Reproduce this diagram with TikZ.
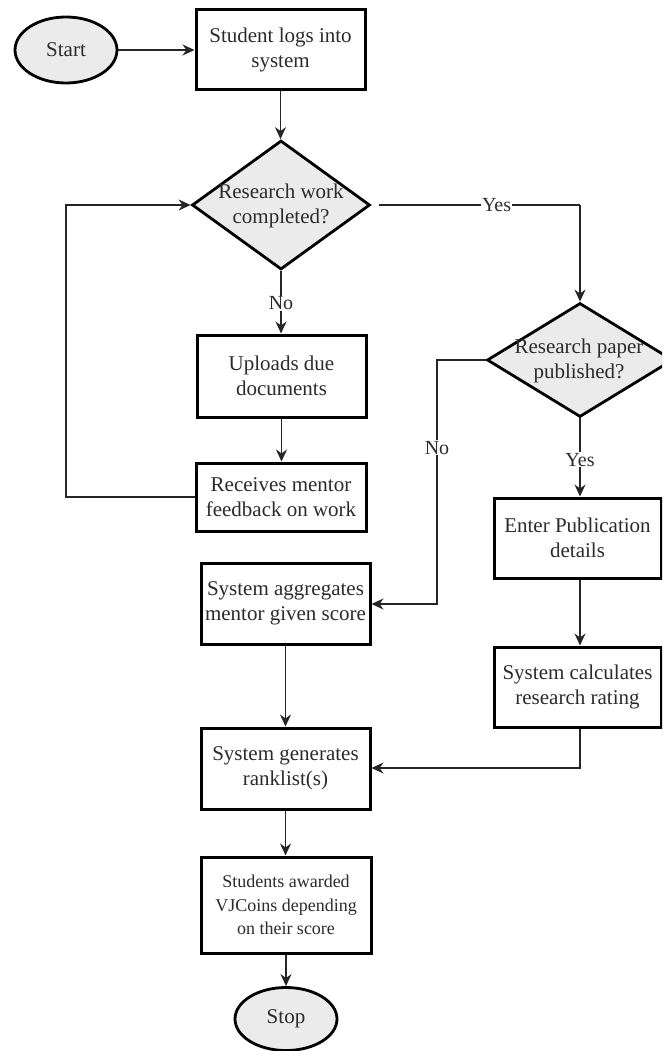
\documentclass[tikz,border=0pt]{standalone}
\usepackage{fontspec}
\setmainfont{Liberation Serif}
\usetikzlibrary{shapes.geometric,arrows.meta}
\definecolor{shapefill}{HTML}{EBEBEB}
\definecolor{txtcol}{HTML}{2B2B2B}
\tikzset{
  procbox/.style={draw=black, line width=3pt, fill=white, rectangle, inner sep=0pt,
    align=center, text=txtcol, font=\fontsize{21}{25}\selectfont},
  termin/.style={draw=black, line width=2.8pt, fill=shapefill, ellipse, inner sep=0pt,
    text=txtcol, font=\fontsize{21}{25}\selectfont},
  decis/.style={draw=black, line width=2.8pt, fill=shapefill, diamond, inner sep=0pt},
  dtext/.style={align=center, text=txtcol, inner sep=0pt, font=\fontsize{21}{25}\selectfont},
  conn/.style={draw=black!85, line width=1.5pt, -{Stealth[length=12pt,width=11pt]}},
  plain/.style={draw=black!85, line width=1.5pt},
  lbl/.style={fill=white, inner sep=1pt, text=txtcol, font=\fontsize{20}{24}\selectfont}
}
\begin{document}
\begin{tikzpicture}[x=1pt,y=-1pt]
\useasboundingbox (0,0) rectangle (662,1051);
\begin{scope}
\clip (0,0) rectangle (662,1051);
% nodes
\node[termin, minimum width=102pt, minimum height=66pt] (start) at (66,50) {Start};
\node[procbox, minimum width=169pt, minimum height=80pt] (login) at (280.5,50) {Student logs into\\system};
\node[decis, minimum width=178pt, minimum height=129pt] (d1) at (281,205) {};
\node[dtext] (d1t) at (281,206) {Research work\\completed?};
\node[procbox, minimum width=169pt, minimum height=82pt] (upload) at (281.5,376) {Uploads due\\documents};
\node[procbox, minimum width=170pt, minimum height=68pt] (recv) at (281,497) {Receives mentor\\feedback on work};
\node[decis, minimum width=186pt, minimum height=114pt] (d2) at (580,360) {};
\node[dtext] (d2t) at (579,361) {Research paper\\published?};
\node[procbox, minimum width=167pt, minimum height=80pt] (enter) at (577.5,538) {Enter Publication\\details};
\node[procbox, minimum width=167pt, minimum height=80pt] (calc) at (577.5,687) {System calculates\\research rating};
\node[procbox, minimum width=169pt, minimum height=81pt] (agg) at (285.5,603.5) {System aggregates\\mentor given score};
\node[procbox, minimum width=169pt, minimum height=81pt] (rank) at (285.5,768.5) {System generates\\ranklist(s)};
\node[procbox, minimum width=170pt, minimum height=96pt, font=\fontsize{18}{23.5}\selectfont] (award) at (286,905) {Students awarded\\VJCoins depending\\on their score};
\node[termin, minimum width=102pt, minimum height=63pt] (stop) at (286,1019) {Stop};
% helper coordinates
\coordinate (yesc) at (580,205);
\coordinate (loopb) at (66,497);
\coordinate (loopt) at (66,205);
\coordinate (noa) at (437,360);
\coordinate (nob) at (437,604);
\coordinate (calcb) at (580,768);
% connectors
\draw[conn] (start.east) -- (login.west);
\draw[conn] (login.south) -- (login.south |- d1.north);
\draw[plain, shorten <=8pt] (d1.east) -- (yesc) node[lbl, pos=0.6] (yes1) {Yes};
\draw[conn] (yesc) -- (d2.north);
\draw[conn] (d1.south) -- (d1.south |- upload.north) node[lbl, pos=0.52] (no1) {No};
\draw[conn] (upload.south) -- (upload.south |- recv.north);
\draw[conn] (recv.west) -- (loopb) -- (loopt) -- (d1.west);
\draw[conn] (d2.west) -- (noa) -- (nob) node[lbl, pos=0.36] (no2) {No} -- (agg.east |- nob);
\draw[conn] (d2.south) -- (d2.south |- enter.north) node[lbl, pos=0.53] (yes2) {Yes};
\draw[conn] (d2.south |- enter.south) -- (d2.south |- calc.north);
\draw[conn] (agg.south) -- (agg.south |- rank.north);
\draw[conn] (d2.south |- calc.south) -- (calcb) -- (rank.east |- calcb);
\draw[conn] (rank.south) -- (rank.south |- award.north);
\draw[conn] (award.south) -- (award.south |- stop.north);
\end{scope}
\end{tikzpicture}
\end{document}
